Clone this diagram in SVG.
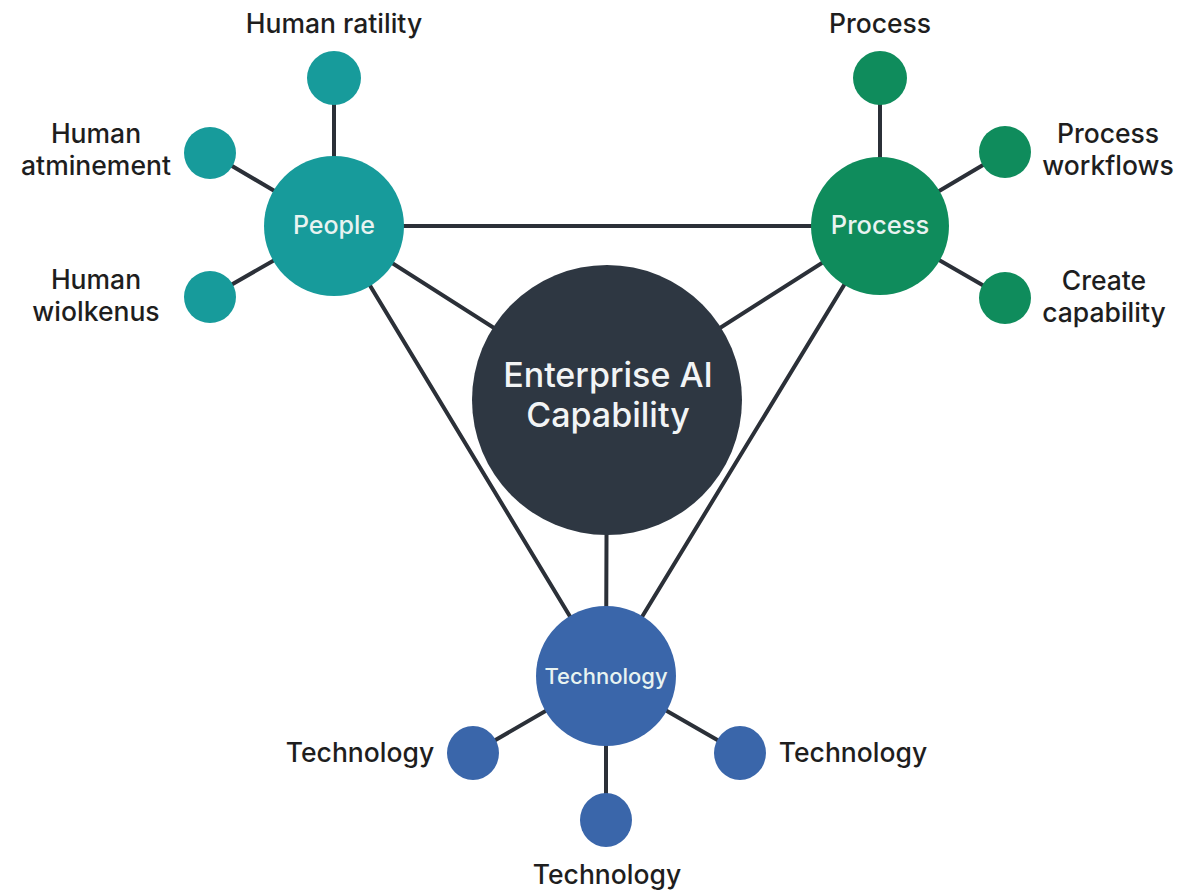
<svg xmlns="http://www.w3.org/2000/svg" width="1193" height="890" viewBox="0 0 1193 890">
<style>
.bg{fill:#ffffff}
.ln{stroke:#2b3038;stroke-width:4;fill:none;stroke-linecap:round}
.people{fill:#179b9b}
.process{fill:#0f8c5c}
.tech{fill:#3a66aa}
.core{fill:#2e3742}
.lbl{font-family:Inter,"Liberation Sans",sans-serif;font-size:26.5px;font-weight:500;fill:#1e1e1e;text-anchor:middle}
.nl{font-family:Inter,"Liberation Sans",sans-serif;font-weight:500;fill:#e8f3f1;text-anchor:middle}
</style>
<rect class="bg" x="0" y="0" width="1193" height="890"/>
<g id="connectors">
<line class="ln" x1="334" y1="226" x2="880" y2="226"/>
<line class="ln" x1="334" y1="226" x2="607" y2="400"/>
<line class="ln" x1="880" y1="226" x2="607" y2="400"/>
<line class="ln" x1="334" y1="226" x2="606" y2="676"/>
<line class="ln" x1="880" y1="226" x2="606" y2="676"/>
<line class="ln" x1="607" y1="400" x2="606" y2="676"/>
<line class="ln" x1="334" y1="78" x2="334" y2="226"/>
<line class="ln" x1="210" y1="153" x2="334" y2="226"/>
<line class="ln" x1="210" y1="297" x2="334" y2="226"/>
<line class="ln" x1="880" y1="78" x2="880" y2="226"/>
<line class="ln" x1="1005" y1="152" x2="880" y2="226"/>
<line class="ln" x1="1005" y1="298" x2="880" y2="226"/>
<line class="ln" x1="473" y1="753" x2="606" y2="676"/>
<line class="ln" x1="740" y1="753" x2="606" y2="676"/>
<line class="ln" x1="606" y1="820" x2="606" y2="676"/>
</g>
<g id="core">
<circle class="core" cx="607" cy="400" r="135"/>
<text class="nl" x="608" y="387" font-size="34" font-weight="400" style="fill:#f2f4f5">Enterprise AI</text>
<text class="nl" x="608" y="427" font-size="34" font-weight="400" style="fill:#f2f4f5">Capability</text>
</g>
<g id="people">
<circle class="people" cx="334" cy="226" r="70"/>
<text class="nl" x="334" y="234" font-size="25">People</text>
</g>
<g id="process">
<circle class="process" cx="880" cy="226" r="69"/>
<text class="nl" x="880" y="234" font-size="25.5">Process</text>
</g>
<g id="technology">
<ellipse class="tech" cx="606" cy="676" rx="70" ry="70"/>
<text class="nl" x="606" y="684" font-size="22">Technology</text>
</g>
<g id="people-1">
<circle class="people" cx="334" cy="78" r="27"/>
<text class="lbl" x="334" y="33">Human ratility</text>
</g>
<g id="people-2">
<circle class="people" cx="210" cy="153" r="26"/>
<text class="lbl" x="96" y="143">Human</text>
<text class="lbl" x="96" y="175">atminement</text>
</g>
<g id="people-3">
<circle class="people" cx="210" cy="297" r="26"/>
<text class="lbl" x="96" y="289">Human</text>
<text class="lbl" x="96" y="321">wiolkenus</text>
</g>
<g id="process-1">
<circle class="process" cx="880" cy="78" r="27"/>
<text class="lbl" x="880" y="33">Process</text>
</g>
<g id="process-2">
<circle class="process" cx="1005" cy="152" r="26"/>
<text class="lbl" x="1108" y="143">Process</text>
<text class="lbl" x="1108" y="175">workflows</text>
</g>
<g id="process-3">
<circle class="process" cx="1005" cy="298" r="26"/>
<text class="lbl" x="1104" y="290">Create</text>
<text class="lbl" x="1104" y="322">capability</text>
</g>
<g id="tech-1">
<ellipse class="tech" cx="473" cy="753" rx="26" ry="27"/>
<text class="lbl" x="360" y="762">Technology</text>
</g>
<g id="tech-2">
<ellipse class="tech" cx="740" cy="753" rx="26" ry="27"/>
<text class="lbl" x="853" y="762">Technology</text>
</g>
<g id="tech-3">
<ellipse class="tech" cx="606" cy="820" rx="26" ry="27"/>
<text class="lbl" x="607" y="884">Technology</text>
</g>
</svg>
